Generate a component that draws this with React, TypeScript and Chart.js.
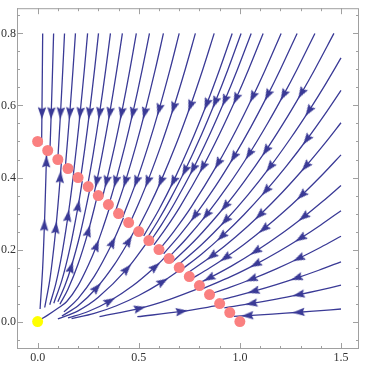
import React, { useEffect, useRef } from "react";
import { Chart, registerables } from "chart.js";

Chart.register(...registerables);

type Pt = [number, number];

// Axis ranges and ticks
const X_MIN = -0.102;
const X_MAX = 1.589;
const Y_MIN = -0.076;
const Y_MAX = 0.87;
const X_TICKS = [0, 0.5, 1, 1.5];
const Y_TICKS = [0, 0.2, 0.4, 0.6, 0.8];
const X_MINOR = [-0.1, 0.1, 0.2, 0.3, 0.4, 0.6, 0.7, 0.8, 0.9, 1.1, 1.2, 1.3, 1.4];
const Y_MINOR = [-0.05, 0.05, 0.1, 0.15, 0.25, 0.3, 0.35, 0.45, 0.5, 0.55, 0.65, 0.7, 0.75, 0.85];

// Line of equilibria (red dots) and origin (yellow dot)
const EQ_X = [0, 0.05, 0.1, 0.15, 0.2, 0.25, 0.3, 0.35, 0.4, 0.45, 0.5, 0.55, 0.6, 0.65, 0.7, 0.75, 0.8, 0.85, 0.9, 0.95, 1.0];
const EQ_Y = [0.5, 0.475, 0.45, 0.425, 0.4, 0.375, 0.35, 0.325, 0.3, 0.275, 0.25, 0.225, 0.2, 0.175, 0.15, 0.125, 0.1, 0.075, 0.05, 0.025, 0];
const ORIGIN_X = [0];
const ORIGIN_Y = [0];

// Streamlines entering from the top edge (flow direction order)
const TOP_LINES: Pt[][] = [
  [[0.025, 0.8], [0.0234, 0.7], [0.0213, 0.58], [0.0196, 0.49]],
  [[0.079, 0.8], [0.0739, 0.7], [0.0673, 0.58], [0.0605, 0.47]],
  [[0.133, 0.8], [0.1244, 0.7], [0.1133, 0.58], [0.0998, 0.45]],
  [[0.187, 0.8], [0.1749, 0.7], [0.1592, 0.58], [0.1373, 0.431]],
  [[0.247, 0.8], [0.2311, 0.7], [0.2103, 0.58], [0.1953, 0.5], [0.1771, 0.411]],
  [[0.301, 0.8], [0.2816, 0.7], [0.2563, 0.58], [0.2332, 0.48], [0.2113, 0.394]],
  [[0.36, 0.8], [0.3368, 0.7], [0.3066, 0.58], [0.276, 0.47], [0.247, 0.377]],
  [[0.419, 0.8], [0.3919, 0.7], [0.3568, 0.58], [0.3177, 0.46], [0.2926, 0.39], [0.2809, 0.36]],
  [[0.488, 0.8], [0.4564, 0.7], [0.4155, 0.58], [0.3819, 0.49], [0.3407, 0.39], [0.3185, 0.341]],
  [[0.553, 0.8], [0.5173, 0.7], [0.4709, 0.58], [0.4328, 0.49], [0.3861, 0.39], [0.352, 0.324]],
  [[0.622, 0.8], [0.5818, 0.7], [0.5296, 0.58], [0.4868, 0.49], [0.4343, 0.39], [0.3855, 0.307]],
  [[0.7, 0.8], [0.6547, 0.7], [0.6011, 0.59], [0.5478, 0.49], [0.4887, 0.39], [0.421, 0.29]],
  [[0.78, 0.8], [0.7296, 0.7], [0.6727, 0.595], [0.6104, 0.49], [0.5446, 0.39], [0.501, 0.33], [0.4551, 0.272]],
  [[0.873, 0.8], [0.8166, 0.7], [0.756, 0.6], [0.6832, 0.49], [0.6095, 0.39], [0.5521, 0.32], [0.492, 0.254]],
  [[0.962, 0.8], [0.8998, 0.7], [0.8366, 0.605], [0.7529, 0.49], [0.6717, 0.39], [0.5988, 0.31], [0.5245, 0.238]],
  [[1.006, 0.8], [0.941, 0.7], [0.8785, 0.61], [0.8111, 0.52], [0.7289, 0.42], [0.6558, 0.34], [0.5952, 0.28], [0.5395, 0.23]],
  [[1.056, 0.8], [0.9878, 0.7], [0.9259, 0.615], [0.8514, 0.52], [0.7697, 0.425], [0.6782, 0.33], [0.6135, 0.27], [0.5562, 0.222]],
  [[1.115, 0.8], [1.043, 0.7], [0.9816, 0.62], [0.8989, 0.52], [0.8174, 0.43], [0.7052, 0.32], [0.6356, 0.26], [0.5748, 0.213]],
  [[1.204, 0.8], [1.1262, 0.7], [1.0642, 0.625], [0.98, 0.53], [0.8929, 0.44], [0.7615, 0.32], [0.673, 0.25], [0.6011, 0.199]],
  [[1.283, 0.8], [1.2001, 0.7], [1.1386, 0.63], [1.0541, 0.54], [0.9708, 0.458], [0.8796, 0.376], [0.7778, 0.294], [0.7027, 0.24], [0.623, 0.1885]],
  [[1.371, 0.8], [1.2825, 0.7], [1.2167, 0.63], [1.1368, 0.55], [1.0464, 0.466], [0.9449, 0.38], [0.8354, 0.297], [0.7351, 0.23], [0.6454, 0.177]],
  [[1.465, 0.8], [1.3703, 0.7], [1.3051, 0.635], [1.2201, 0.555], [1.13, 0.476], [1.0228, 0.39], [0.9279, 0.321], [0.7855, 0.23], [0.6676, 0.166]],
];
const TOP_ARROWS: number[][] = [
  [2], [2], [2], [2], [2], [2], [2], [2, 4], [2, 4], [2, 4], [2, 4], [2, 4], [2, 4], [2, 4], [2, 4],
  [2, 4], [2, 4], [2, 4], [2, 4], [2, 4, 6], [2, 4, 6], [2, 4, 6],
];

// Streamlines entering from the right edge
const RIGHT_LINES: Pt[][] = [
  [[1.5, 0.732], [1.42, 0.656], [1.342, 0.5859], [1.25, 0.5083], [1.15, 0.4302], [1.04, 0.3518], [0.93, 0.2814], [0.81, 0.2134], [0.69, 0.155]],
  [[1.5, 0.642], [1.42, 0.5753], [1.332, 0.5062], [1.23, 0.4316], [1.13, 0.3643], [1.02, 0.2968], [0.912, 0.2373], [0.81, 0.1872], [0.7115, 0.1443]],
  [[1.5, 0.552], [1.42, 0.4946], [1.327, 0.432], [1.21, 0.3591], [1.1, 0.2968], [0.98, 0.2356], [0.863, 0.1827], [0.735, 0.1325]],
  [[1.5, 0.463], [1.41, 0.4091], [1.307, 0.3516], [1.21, 0.3013], [1.12, 0.2582], [1.02, 0.2141], [0.93, 0.178], [0.85, 0.1487], [0.7615, 0.1192]],
  [[1.5, 0.378], [1.41, 0.334], [1.317, 0.2914], [1.2, 0.2419], [1.08, 0.196], [0.96, 0.1548], [0.85, 0.1214], [0.79, 0.105]],
  [[1.5, 0.308], [1.4, 0.2683], [1.302, 0.2321], [1.19, 0.1939], [1.08, 0.1597], [0.96, 0.1262], [0.8172, 0.0914]],
  [[1.5, 0.237], [1.4, 0.2064], [1.293, 0.176], [1.18, 0.1466], [1.06, 0.1183], [0.95, 0.095], [0.8486, 0.0757]],
  [[1.5, 0.166], [1.39, 0.1426], [1.283, 0.1215], [1.18, 0.1028], [1.07, 0.0845], [0.97, 0.0694], [0.8844, 0.0578]],
  [[1.5, 0.101], [1.39, 0.0868], [1.293, 0.0751], [1.18, 0.0625], [1.06, 0.0505], [0.9232, 0.0384]],
  [[1.5, 0.035], [1.4, 0.0305], [1.293, 0.026], [1.16, 0.0209], [1.04, 0.0168], [0.971, 0.0147]],
];
const RIGHT_ARROWS: number[][] = [
  [2, 4, 6], [2, 4, 6], [2, 4, 6], [2, 4, 6], [2, 4, 6], [2, 4], [2, 4], [2, 4], [2, 4], [2, 4],
];

// Streamlines leaving the neighbourhood of the origin
const LOW_LINES: Pt[][] = [
  [[0.0121, 0.035], [0.025, 0.15], [0.0334, 0.267], [0.0387, 0.36], [0.043, 0.443], [0.0446, 0.4777]],
  [[0.035, 0.0392], [0.06, 0.1152], [0.08, 0.2048], [0.09, 0.2592], [0.1, 0.32], [0.1118, 0.4], [0.1174, 0.4413]],
  [[0.06, 0.0468], [0.09, 0.1053], [0.12, 0.1872], [0.15, 0.2925], [0.165, 0.3539], [0.1778, 0.4111]],
  [[0.08, 0.0512], [0.12, 0.1152], [0.16, 0.2048], [0.2, 0.32], [0.2207, 0.3897]],
  [[0.1, 0.055], [0.135, 0.1002], [0.165, 0.1497], [0.21, 0.2426], [0.2595, 0.3703]],
  [[0.11, 0.0484], [0.15, 0.09], [0.2, 0.16], [0.25, 0.25], [0.2966, 0.3517]],
  [[0.008, 0.004], [0.05, 0.018], [0.1, 0.037], [0.143, 0.055], [0.2, 0.1], [0.25, 0.156], [0.291, 0.21], [0.325, 0.264], [0.3583, 0.3209]],
  [[0.13, 0.027], [0.2, 0.064], [0.28, 0.1254], [0.37, 0.219], [0.4242, 0.2879]],
  [[0.12, 0.0158], [0.2, 0.044], [0.291, 0.0932], [0.38, 0.1588], [0.45, 0.2228], [0.4842, 0.2579]],
  [[0.1, 0.0075], [0.2, 0.03], [0.3, 0.0675], [0.44, 0.1452], [0.5486, 0.2257]],
  [[0.15, 0.0101], [0.25, 0.0281], [0.355, 0.0567], [0.47, 0.0994], [0.58, 0.1514], [0.636, 0.182]],
  [[0.168, 0.0082], [0.28, 0.0227], [0.39, 0.0441], [0.5, 0.0725], [0.617, 0.1104], [0.7087, 0.1456]],
  [[0.306, 0.0136], [0.503, 0.0367], [0.65, 0.0613], [0.8098, 0.0951]],
  [[0.493, 0.0136], [0.71, 0.0282], [0.9076, 0.0462]],
];
const LOW_ARROWS: number[][] = [
  [2, 4], [3, 5], [3], [3], [2], [3], [6], [3], [2, 4], [3], [2, 4], [4], [1], [1],
];

const LINE_COLOR = "rgb(58,58,150)";
const DOT_COLOR = "rgb(250,128,128)";
const ORIGIN_COLOR = "rgb(255,255,0)";
const FRAME_COLOR = "#a0a0a0";
const LABEL_COLOR = "#333333";
const FONT_FAMILY = "'Liberation Serif', 'DejaVu Serif', serif";

function makeArrowImage(color: string): HTMLCanvasElement {
  const c = document.createElement("canvas");
  c.width = 14;
  c.height = 14;
  const g = c.getContext("2d")!;
  g.fillStyle = color;
  g.beginPath();
  g.moveTo(7, 0.5);
  g.lineTo(11.2, 12.5);
  g.lineTo(7, 10.8);
  g.lineTo(2.8, 12.5);
  g.closePath();
  g.fill();
  return c;
}

const framePlugin = {
  id: "frameTicks",
  beforeDatasetsDraw(chart: any) {
    const { ctx, chartArea: a, scales } = chart;
    const xs = scales.x;
    const ys = scales.y;
    ctx.save();
    ctx.strokeStyle = FRAME_COLOR;
    ctx.lineWidth = 1;
    ctx.strokeRect(a.left + 0.5, a.top + 0.5, a.right - a.left - 1, a.bottom - a.top - 1);
    ctx.beginPath();
    const xTick = (v: number, len: number) => {
      const px = Math.round(xs.getPixelForValue(v)) + 0.5;
      ctx.moveTo(px, a.bottom);
      ctx.lineTo(px, a.bottom - len);
      ctx.moveTo(px, a.top);
      ctx.lineTo(px, a.top + len);
    };
    const yTick = (v: number, len: number) => {
      const py = Math.round(ys.getPixelForValue(v)) + 0.5;
      ctx.moveTo(a.left, py);
      ctx.lineTo(a.left + len, py);
      ctx.moveTo(a.right, py);
      ctx.lineTo(a.right - len, py);
    };
    X_TICKS.forEach((v) => xTick(v, 6));
    X_MINOR.forEach((v) => xTick(v, 3));
    Y_TICKS.forEach((v) => yTick(v, 6));
    Y_MINOR.forEach((v) => yTick(v, 3));
    ctx.stroke();
    ctx.restore();
  },
};

export default function App() {
  const ref = useRef<HTMLCanvasElement | null>(null);

  useEffect(() => {
    if (!ref.current) return;
    const arrowImg = makeArrowImage(LINE_COLOR);

    const groups: [Pt[][], number[][]][] = [
      [TOP_LINES, TOP_ARROWS],
      [RIGHT_LINES, RIGHT_ARROWS],
      [LOW_LINES, LOW_ARROWS],
    ];

    const lineDatasets: any[] = [];
    const arrowData: any[] = [];
    groups.forEach(([lines, arrows]) => {
      lines.forEach((pts, li) => {
        lineDatasets.push({
          data: pts.map(([x, y]) => ({ x, y })),
          showLine: true,
          borderColor: LINE_COLOR,
          borderWidth: 1.3,
          pointRadius: 0,
          pointHoverRadius: 0,
          tension: 0.35,
          fill: false,
          order: 3,
        });
        (arrows[li] || []).forEach((i) => {
          const p = pts[Math.max(0, i - 1)];
          const n = pts[Math.min(pts.length - 1, i + 1)];
          arrowData.push({ x: pts[i][0], y: pts[i][1], px: p[0], py: p[1], nx: n[0], ny: n[1] });
        });
      });
    });

    const chart = new Chart(ref.current, {
      type: "scatter",
      data: {
        datasets: [
          {
            data: EQ_X.map((x, i) => ({ x, y: EQ_Y[i] })),
            pointRadius: 5.5,
            pointBackgroundColor: DOT_COLOR,
            pointBorderWidth: 0,
            showLine: false,
            order: 0,
          },
          {
            data: ORIGIN_X.map((x, i) => ({ x, y: ORIGIN_Y[i] })),
            pointRadius: 5.5,
            pointBackgroundColor: ORIGIN_COLOR,
            pointBorderWidth: 0,
            showLine: false,
            order: 0,
          },
          {
            data: arrowData,
            pointStyle: arrowImg as any,
            pointRadius: 6,
            showLine: false,
            order: 1,
            pointRotation: (c: any) => {
              const a = c.raw;
              if (!a || a.px === undefined) return 0;
              const xs = c.chart.scales.x;
              const ys = c.chart.scales.y;
              const dx = xs.getPixelForValue(a.nx) - xs.getPixelForValue(a.px);
              const dy = ys.getPixelForValue(a.ny) - ys.getPixelForValue(a.py);
              return (Math.atan2(dx, -dy) * 180) / Math.PI;
            },
          } as any,
          ...lineDatasets,
        ],
      },
      options: {
        animation: false,
        responsive: true,
        maintainAspectRatio: false,
        events: [],
        layout: { padding: { top: 1, right: 6, left: 0, bottom: 0 } },
        plugins: { legend: { display: false }, tooltip: { enabled: false } },
        scales: {
          x: {
            type: "linear",
            min: X_MIN,
            max: X_MAX,
            grid: { display: false, drawTicks: false },
            border: { display: false },
            afterFit: (s: any) => {
              s.height = 16;
            },
            afterBuildTicks: (s: any) => {
              s.ticks = X_TICKS.map((v) => ({ value: v }));
            },
            ticks: {
              padding: 2,
              color: LABEL_COLOR,
              font: { family: FONT_FAMILY, size: 12 },
              maxRotation: 0,
              callback: (v: any) => Number(v).toFixed(1),
            },
          },
          y: {
            type: "linear",
            min: Y_MIN,
            max: Y_MAX,
            grid: { display: false, drawTicks: false },
            border: { display: false },
            afterFit: (s: any) => {
              s.width = 17;
            },
            afterBuildTicks: (s: any) => {
              s.ticks = Y_TICKS.map((v) => ({ value: v }));
            },
            ticks: {
              padding: 1,
              color: LABEL_COLOR,
              font: { family: FONT_FAMILY, size: 12 },
              callback: (v: any) => Number(v).toFixed(1),
            },
          },
        },
      } as any,
      plugins: [framePlugin],
    });
    return () => chart.destroy();
  }, []);

  return (
    <div style={{ position: "fixed", left: 0, top: 0, width: 366, height: 365, background: "#fff" }}>
      <canvas ref={ref} />
    </div>
  );
}
